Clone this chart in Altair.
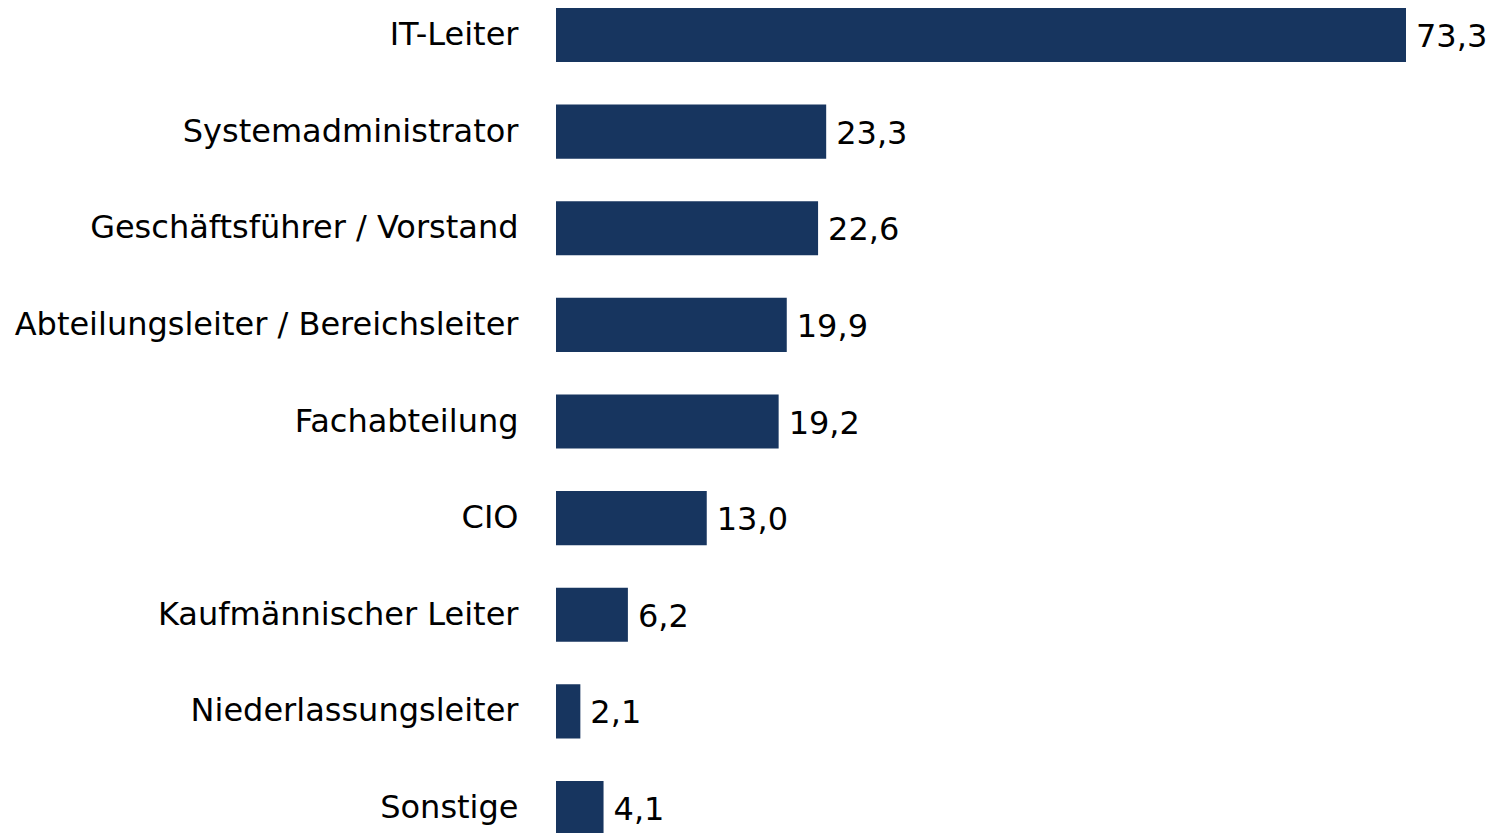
import altair as alt
import pandas as pd

categories = [
    "IT-Leiter",
    "Systemadministrator",
    "Geschäftsführer / Vorstand",
    "Abteilungsleiter / Bereichsleiter",
    "Fachabteilung",
    "CIO",
    "Kaufmännischer Leiter",
    "Niederlassungsleiter",
    "Sonstige",
]
values = [73.3, 23.3, 22.6, 19.9, 19.2, 13.0, 6.2, 2.1, 4.1]

df = pd.DataFrame({
    "cat": categories,
    "val": values,
    "label": [f"{v:.1f}".replace(".", ",") for v in values],
})

FONT = "DejaVu Sans"
COLOR = "#17355F"

y = alt.Y("cat:N", sort=categories,
          scale=alt.Scale(paddingInner=0.44, paddingOuter=0.0),
          axis=alt.Axis(title=None, domain=False, ticks=False, labelFont=FONT,
                        labelFontSize=32, labelColor="#000000", labelPadding=38,
                        labelLimit=1000))
x = alt.X("val:Q", scale=alt.Scale(domain=[0, 73.3], nice=False, zero=True),
          axis=None)

bars = alt.Chart(df).mark_bar(color=COLOR).encode(x=x, y=y)
text = alt.Chart(df).mark_text(align="left", baseline="middle", dx=10, dy=2,
                               font=FONT, fontSize=32, color="#000000").encode(
    x=x, y=y, text="label:N")

chart = (bars + text).properties(
    width=850, height=827,
    autosize=alt.AutoSizeParams(type="none"),
    padding={"left": 548, "top": 0, "right": 83, "bottom": 0},
).configure_view(stroke=None)

chart.save("out.html", embed_options={"renderer": "svg", "actions": False})
